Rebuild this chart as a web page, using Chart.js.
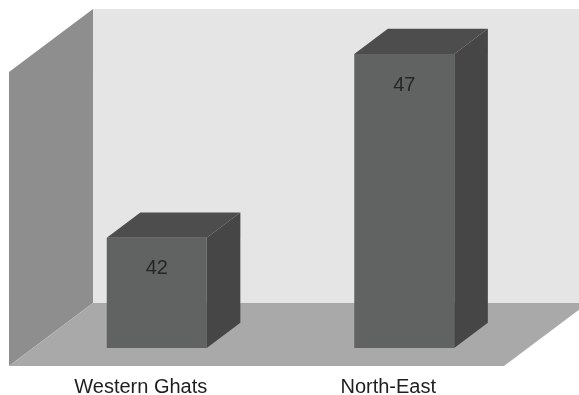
<!DOCTYPE html>
<html lang="en">
<head>
    <meta charset="UTF-8">
    <title>Western Ghats vs North-East</title>
    <script src="https://cdn.jsdelivr.net/npm/chart.js"></script>
    <style>
        body {
            margin: 0;
            background: #fff;
        }
        #wrap {
            position: relative;
            width: 579px;
            height: 395px;
        }
    </style>
</head>
<body>
    <div id="wrap">
        <canvas id="regionChart"></canvas>
    </div>

    <script>
        // Data
        const categories = ['Western Ghats', 'North-East'];
        const values = [42, 47];
        const axisMin = 39;
        const axisMax = 47;

        // 3D look: front plane sits in front of the bar plane, room depth goes up-right
        const roomDepth = { dx: 84, dy: 63 };
        const barPlane = 0.286;   // where bar fronts sit inside the room (0 = front, 1 = back)
        const barDepth = 0.4;     // bar thickness as fraction of room depth

        const wallColor = '#e5e5e5';
        const sideWallColor = '#8e8e8e';
        const floorColor = '#a9a9a9';
        const barFront = '#616262';
        const barTop = '#4d4d4d';
        const barSide = '#464646';
        const textFont = '20px "Liberation Sans", Arial, sans-serif';

        function poly(ctx, pts, color) {
            ctx.beginPath();
            ctx.moveTo(pts[0][0], pts[0][1]);
            for (let i = 1; i < pts.length; i++) {
                ctx.lineTo(pts[i][0], pts[i][1]);
            }
            ctx.closePath();
            ctx.fillStyle = color;
            ctx.fill();
        }

        const room3d = {
            id: 'room3d',
            beforeDatasetsDraw(chart) {
                const ctx = chart.ctx;
                const ca = chart.chartArea;
                // front plane = chart area pushed forward by barPlane
                const fx = barPlane * roomDepth.dx;
                const fy = barPlane * roomDepth.dy;
                const l = ca.left - fx, r = ca.right - fx;
                const t = ca.top + fy, b = ca.bottom + fy;
                const dx = roomDepth.dx, dy = roomDepth.dy;

                ctx.save();
                // back wall
                poly(ctx, [[l + dx, t - dy], [r + dx, t - dy], [r + dx, b - dy], [l + dx, b - dy]], wallColor);
                // left wall
                poly(ctx, [[l, t], [l + dx, t - dy], [l + dx, b - dy], [l, b]], sideWallColor);
                // floor
                poly(ctx, [[l, b], [l + dx, b - dy], [r + dx, b - dy], [r, b]], floorColor);
                ctx.restore();
            },
            afterDatasetsDraw(chart) {
                const ctx = chart.ctx;
                const meta = chart.getDatasetMeta(0);
                const ddx = barDepth * roomDepth.dx;
                const ddy = barDepth * roomDepth.dy;

                ctx.save();
                meta.data.forEach((bar, i) => {
                    const p = bar.getProps(['x', 'y', 'base', 'width'], true);
                    const base = Math.min(p.base, chart.chartArea.bottom);
                    const left = p.x - p.width / 2;
                    const right = p.x + p.width / 2;
                    // top face
                    poly(ctx, [[left, p.y], [left + ddx, p.y - ddy], [right + ddx, p.y - ddy], [right, p.y]], barTop);
                    // side face
                    poly(ctx, [[right, p.y], [right + ddx, p.y - ddy], [right + ddx, base - ddy], [right, base]], barSide);

                    // value label on the front face
                    ctx.fillStyle = '#262626';
                    ctx.font = textFont;
                    ctx.textAlign = 'center';
                    ctx.textBaseline = 'middle';
                    ctx.fillText(String(values[i]), p.x, p.y + 31);

                    // category label under the floor
                    ctx.fillStyle = '#1e1e1e';
                    ctx.textBaseline = 'alphabetic';
                    ctx.fillText(categories[i], p.x - 16, 393);
                });
                ctx.restore();
            }
        };

        const ctx = document.getElementById('regionChart').getContext('2d');
        const chart = new Chart(ctx, {
            type: 'bar',
            data: {
                labels: categories,
                datasets: [{
                    data: values,
                    backgroundColor: barFront,
                    borderWidth: 0,
                    barPercentage: 0.404,
                    categoryPercentage: 1
                }]
            },
            options: {
                responsive: true,
                maintainAspectRatio: false,
                animation: false,
                layout: {
                    padding: { left: 33, right: 51, top: 54, bottom: 47 }
                },
                scales: {
                    x: { display: false },
                    y: {
                        display: false,
                        min: axisMin,
                        max: axisMax
                    }
                },
                plugins: {
                    legend: { display: false },
                    tooltip: { enabled: false }
                }
            },
            plugins: [room3d]
        });
    </script>
</body>
</html>
